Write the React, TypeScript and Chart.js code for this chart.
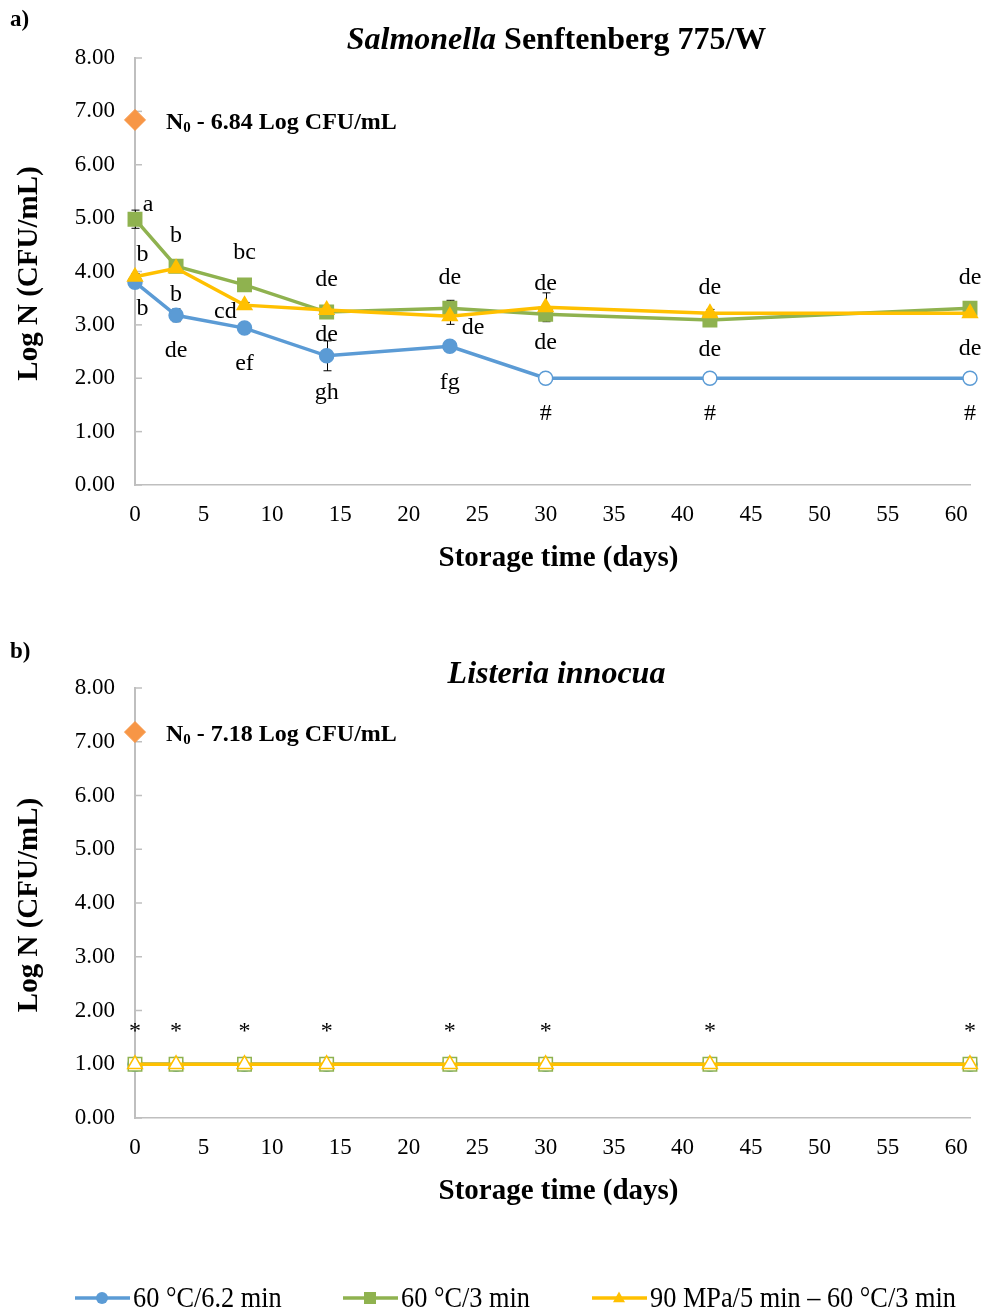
import React, { useEffect, useRef } from "react";
import { Chart, registerables } from "chart.js";
Chart.register(...registerables);

const FONT = "'Liberation Serif', 'Times New Roman', serif";
const BLUE = "#5B9BD5";
const GREEN = "#8FB24F";
const YELLOW = "#FFC000";
const ORANGE = "#F79646";
const AXIS_GRAY = "#BFBFBF";

// ---- data ----
const storageDays = [0, 3, 8, 14, 23, 30, 42, 61];
const xMax = 61;
const yMax = 8;
const xStep = 5;
const yStep = 1;

const seriesLabels = ["60 °C/6.2 min", "60 °C/3 min", "90 MPa/5 min – 60 °C/3 min"];

// a) Salmonella Senftenberg 775/W
const salN0 = 6.84;
const salBlue = [3.8, 3.18, 2.94, 2.42, 2.6, 2.0, 2.0, 2.0];
const salBlueErr = [0.04, 0.12, 0.03, 0.28, 0.08, 0, 0, 0];
const salBlueHollow = [false, false, false, false, false, true, true, true];
const salGreen = [4.98, 4.1, 3.75, 3.24, 3.31, 3.2, 3.09, 3.31];
const salGreenErr = [0.17, 0.05, 0.03, 0.05, 0.15, 0.05, 0.12, 0.08];
const salGreenHollow = [false, false, false, false, false, false, false, false];
const salYellow = [3.9, 4.06, 3.37, 3.28, 3.16, 3.33, 3.22, 3.22];
const salYellowErr = [0.06, 0.05, 0.05, 0.03, 0.15, 0.27, 0.07, 0.03];
const salYellowHollow = [false, false, false, false, false, false, false, false];

const salLetterText = ["a", "b", "b", "bc", "de", "de", "de", "de", "de", "b", "b", "cd", "de", "de", "de", "de", "de", "de", "ef", "gh", "fg", "#", "#", "#"];
const salLetterDay = [0.95, 3, 0.55, 8, 14, 23, 30, 42, 61, 3, 0.55, 6.6, 14, 24.7, 30, 42, 61, 3, 8, 14, 23, 30, 42, 61];
const salLetterVal = [5.26, 4.68, 4.32, 4.36, 3.85, 3.89, 3.78, 3.69, 3.89, 3.56, 3.31, 3.24, 2.81, 2.94, 2.66, 2.53, 2.55, 2.51, 2.27, 1.72, 1.91, 1.33, 1.33, 1.33];

// b) Listeria innocua
const lisN0 = 7.18;
const lisBlue = [1, 1, 1, 1, 1, 1, 1, 1];
const lisGreen = [1, 1, 1, 1, 1, 1, 1, 1];
const lisYellow = [1, 1, 1, 1, 1, 1, 1, 1];
const lisErr = [0, 0, 0, 0, 0, 0, 0, 0];
const lisHollow = [true, true, true, true, true, true, true, true];
const lisLetterText = ["*", "*", "*", "*", "*", "*", "*", "*"];
const lisLetterDay = [0, 3, 8, 14, 23, 30, 42, 61];
const lisLetterVal = [1.6, 1.6, 1.6, 1.6, 1.6, 1.6, 1.6, 1.6];

type Series = {
  values: number[];
  errors: number[];
  hollow: boolean[];
  color: string;
  style: string;
  radius: number;
  order: number;
  label: string;
};

type Panel = {
  tag: string;
  titleParts: { text: string; italic: boolean }[];
  n0: number;
  series: Series[];
  letterText: string[];
  letterDay: number[];
  letterVal: number[];
  legend: boolean;
  width: number;
  height: number;
  top: number;
  bottom: number;
  tagY: number;
  titleY: number;
  xTitleY: number;
  legendY: number;
};

function makeSeries(values: number[], errors: number[], hollow: boolean[], idx: number): Series {
  const colors = [BLUE, GREEN, YELLOW];
  const styles = ["circle", "rect", "triangle"];
  const radii = [7, 9.5, 8.5];
  const orders = [3, 2, 1];
  return { values, errors, hollow, color: colors[idx], style: styles[idx], radius: radii[idx], order: orders[idx], label: seriesLabels[idx] };
}

function drawRich(ctx: CanvasRenderingContext2D, parts: { text: string; font: string; dy?: number }[], x: number, y: number, align: "center" | "left") {
  ctx.save();
  ctx.textBaseline = "middle";
  ctx.textAlign = "left";
  let total = 0;
  const widths = parts.map((p) => {
    ctx.font = p.font;
    const w = ctx.measureText(p.text).width;
    total += w;
    return w;
  });
  let cx = align === "center" ? x - total / 2 : x;
  parts.forEach((p, i) => {
    ctx.font = p.font;
    ctx.fillText(p.text, cx, y + (p.dy || 0));
    cx += widths[i];
  });
  ctx.restore();
}

function drawMarker(ctx: CanvasRenderingContext2D, style: string, x: number, y: number, r: number) {
  ctx.beginPath();
  if (style === "circle") {
    ctx.arc(x, y, r, 0, Math.PI * 2);
  } else if (style === "rect") {
    ctx.rect(x - r, y - r, 2 * r, 2 * r);
  } else {
    ctx.moveTo(x, y - r * 1.1);
    ctx.lineTo(x + r, y + r * 0.7);
    ctx.lineTo(x - r, y + r * 0.7);
    ctx.closePath();
  }
  ctx.fill();
}

function panelPlugin(p: Panel) {
  return {
    id: "panel-" + p.tag,
    beforeDatasetsDraw(chart: any) {
      const { ctx } = chart;
      const x = chart.scales.x;
      const y = chart.scales.y;
      ctx.save();
      // inside tick marks on y axis
      ctx.strokeStyle = AXIS_GRAY;
      ctx.lineWidth = 1.5;
      y.ticks.forEach((t: any) => {
        const py = y.getPixelForValue(t.value);
        ctx.beginPath();
        ctx.moveTo(x.left, py);
        ctx.lineTo(x.left + 7, py);
        ctx.stroke();
      });
      // error bars
      ctx.strokeStyle = "#000";
      ctx.lineWidth = 1;
      p.series.forEach((s) => {
        s.errors.forEach((e, i) => {
          if (!e) return;
          const px = Math.round(x.getPixelForValue(storageDays[i])) + 0.5;
          const t = y.getPixelForValue(s.values[i] + e);
          const b = y.getPixelForValue(s.values[i] - e);
          ctx.beginPath();
          ctx.moveTo(px, t);
          ctx.lineTo(px, b);
          ctx.moveTo(px - 4, t);
          ctx.lineTo(px + 4, t);
          ctx.moveTo(px - 4, b);
          ctx.lineTo(px + 4, b);
          ctx.stroke();
        });
      });
      ctx.restore();
    },
    afterDatasetsDraw(chart: any) {
      const { ctx } = chart;
      const x = chart.scales.x;
      const y = chart.scales.y;
      ctx.save();
      ctx.fillStyle = "#000";
      ctx.font = `24px ${FONT}`;
      ctx.textAlign = "center";
      ctx.textBaseline = "middle";
      p.letterText.forEach((t, i) => {
        ctx.fillText(t, x.getPixelForValue(p.letterDay[i]), y.getPixelForValue(p.letterVal[i]));
      });
      ctx.restore();
      // N0 label
      const nx = x.getPixelForValue(0) + 31;
      const ny = y.getPixelForValue(p.n0) + 3;
      ctx.save();
      ctx.fillStyle = "#000";
      drawRich(
        ctx,
        [
          { text: "N", font: `bold 24px ${FONT}` },
          { text: "0", font: `bold 15px ${FONT}`, dy: 5 },
          { text: ` - ${p.n0.toFixed(2)} Log CFU/mL`, font: `bold 24px ${FONT}` },
        ],
        nx,
        ny,
        "left"
      );
      ctx.restore();
    },
    afterDraw(chart: any) {
      const { ctx, chartArea } = chart;
      ctx.save();
      ctx.fillStyle = "#000";
      // panel tag
      ctx.font = `bold 23px ${FONT}`;
      ctx.textAlign = "left";
      ctx.textBaseline = "middle";
      ctx.fillText(p.tag + ")", 10, p.tagY);
      // title
      const cx = (chartArea.left + chartArea.right) / 2 + 2;
      drawRich(
        ctx,
        p.titleParts.map((tp) => ({ text: tp.text, font: `${tp.italic ? "italic " : ""}bold 32px ${FONT}` })),
        cx + 2,
        p.titleY,
        "center"
      );
      // x axis title
      ctx.font = `bold 29px ${FONT}`;
      ctx.textAlign = "center";
      ctx.fillText("Storage time (days)", cx + 4, p.xTitleY);
      // y axis title
      ctx.save();
      ctx.translate(30, (chartArea.top + chartArea.bottom) / 2 + 2);
      ctx.rotate(-Math.PI / 2);
      ctx.fillText("Log N (CFU/mL)", 0, 0);
      ctx.restore();
      // legend
      if (p.legend) {
        const lineStarts = [75, 343, 592];
        ctx.font = `28px ${FONT}`;
        ctx.textAlign = "left";
        p.series.forEach((s, i) => {
          const x0 = lineStarts[i];
          ctx.strokeStyle = s.color;
          ctx.lineWidth = 3.5;
          ctx.beginPath();
          ctx.moveTo(x0, p.legendY);
          ctx.lineTo(x0 + 55, p.legendY);
          ctx.stroke();
          ctx.fillStyle = s.color;
          drawMarker(ctx, s.style, x0 + 27, p.legendY, 6);
          ctx.fillStyle = "#000";
          ctx.save();
          ctx.translate(x0 + 58, p.legendY + 1);
          ctx.scale(0.94, 1.05);
          ctx.fillText(s.label, 0, 0);
          ctx.restore();
        });
      }
      ctx.restore();
    },
  };
}

function buildChart(canvas: HTMLCanvasElement, p: Panel) {
  const datasets: any[] = p.series.map((s) => ({
    type: "line",
    label: s.label,
    data: storageDays.map((d, i) => ({ x: d, y: s.values[i] })),
    borderColor: s.color,
    borderWidth: 3.5,
    pointStyle: s.style,
    pointRadius: s.radius,
    pointHoverRadius: s.radius,
    pointBorderColor: s.color,
    pointBackgroundColor: s.hollow.map((h) => (h ? "#ffffff" : s.color)),
    pointBorderWidth: 1.5,
    tension: 0,
    order: s.order,
    clip: false,
  }));
  datasets.push({
    type: "line",
    label: "N0",
    data: [{ x: 0, y: p.n0 }],
    showLine: false,
    pointStyle: "rectRot",
    pointRadius: 10.5,
    pointHoverRadius: 10.5,
    pointBackgroundColor: ORANGE,
    pointBorderColor: ORANGE,
    order: 0,
    clip: false,
  });
  return new Chart(canvas, {
    type: "line",
    data: { datasets },
    options: {
      responsive: false,
      animation: false,
      devicePixelRatio: 1,
      events: [],
      layout: { padding: { left: 0, right: 16, top: p.top, bottom: 0 } },
      plugins: { legend: { display: false }, tooltip: { enabled: false }, title: { display: false } },
      scales: {
        x: {
          type: "linear",
          min: 0,
          max: xMax,
          grid: { display: false, drawTicks: false },
          border: { display: true, color: AXIS_GRAY, width: 1.5 },
          ticks: { stepSize: xStep, includeBounds: false, padding: 16, color: "#000", font: { family: FONT, size: 23 } },
          afterFit: (scale: any) => {
            scale.height = p.height - p.bottom;
          },
        },
        y: {
          type: "linear",
          min: 0,
          max: yMax,
          grid: { display: false, drawTicks: false },
          border: { display: true, color: AXIS_GRAY, width: 2 },
          ticks: {
            stepSize: yStep,
            padding: 20,
            color: "#000",
            font: { family: FONT, size: 23 },
            callback: (v: any) => Number(v).toFixed(2),
          },
          afterFit: (scale: any) => {
            scale.width = 135;
          },
        },
      },
    } as any,
    plugins: [panelPlugin(p) as any],
  });
}

const panelA: Panel = {
  tag: "a",
  titleParts: [
    { text: "Salmonella", italic: true },
    { text: " Senftenberg 775/W", italic: false },
  ],
  n0: salN0,
  series: [
    makeSeries(salBlue, salBlueErr, salBlueHollow, 0),
    makeSeries(salGreen, salGreenErr, salGreenHollow, 1),
    makeSeries(salYellow, salYellowErr, salYellowHollow, 2),
  ],
  letterText: salLetterText,
  letterDay: salLetterDay,
  letterVal: salLetterVal,
  legend: false,
  width: 986,
  height: 600,
  top: 58,
  bottom: 485,
  tagY: 20,
  titleY: 41,
  xTitleY: 559,
  legendY: 0,
};

const panelB: Panel = {
  tag: "b",
  titleParts: [{ text: "Listeria innocua", italic: true }],
  n0: lisN0,
  series: [
    makeSeries(lisBlue, lisErr, lisHollow, 0),
    makeSeries(lisGreen, lisErr, lisHollow, 1),
    makeSeries(lisYellow, lisErr, lisHollow, 2),
  ],
  letterText: lisLetterText,
  letterDay: lisLetterDay,
  letterVal: lisLetterVal,
  legend: true,
  width: 986,
  height: 713,
  top: 88,
  bottom: 518,
  tagY: 52,
  titleY: 75,
  xTitleY: 592,
  legendY: 698,
};

function ChartCanvas({ panel }: { panel: Panel }) {
  const ref = useRef<HTMLCanvasElement | null>(null);
  useEffect(() => {
    if (!ref.current) return;
    const chart = buildChart(ref.current, panel);
    return () => chart.destroy();
  }, [panel]);
  return <canvas ref={ref} width={panel.width} height={panel.height} style={{ display: "block", width: panel.width, height: panel.height }} />;
}

export default function App() {
  return (
    <div style={{ position: "absolute", left: 0, top: 0, width: 986, height: 1313, background: "#fff" }}>
      <ChartCanvas panel={panelA} />
      <ChartCanvas panel={panelB} />
    </div>
  );
}
